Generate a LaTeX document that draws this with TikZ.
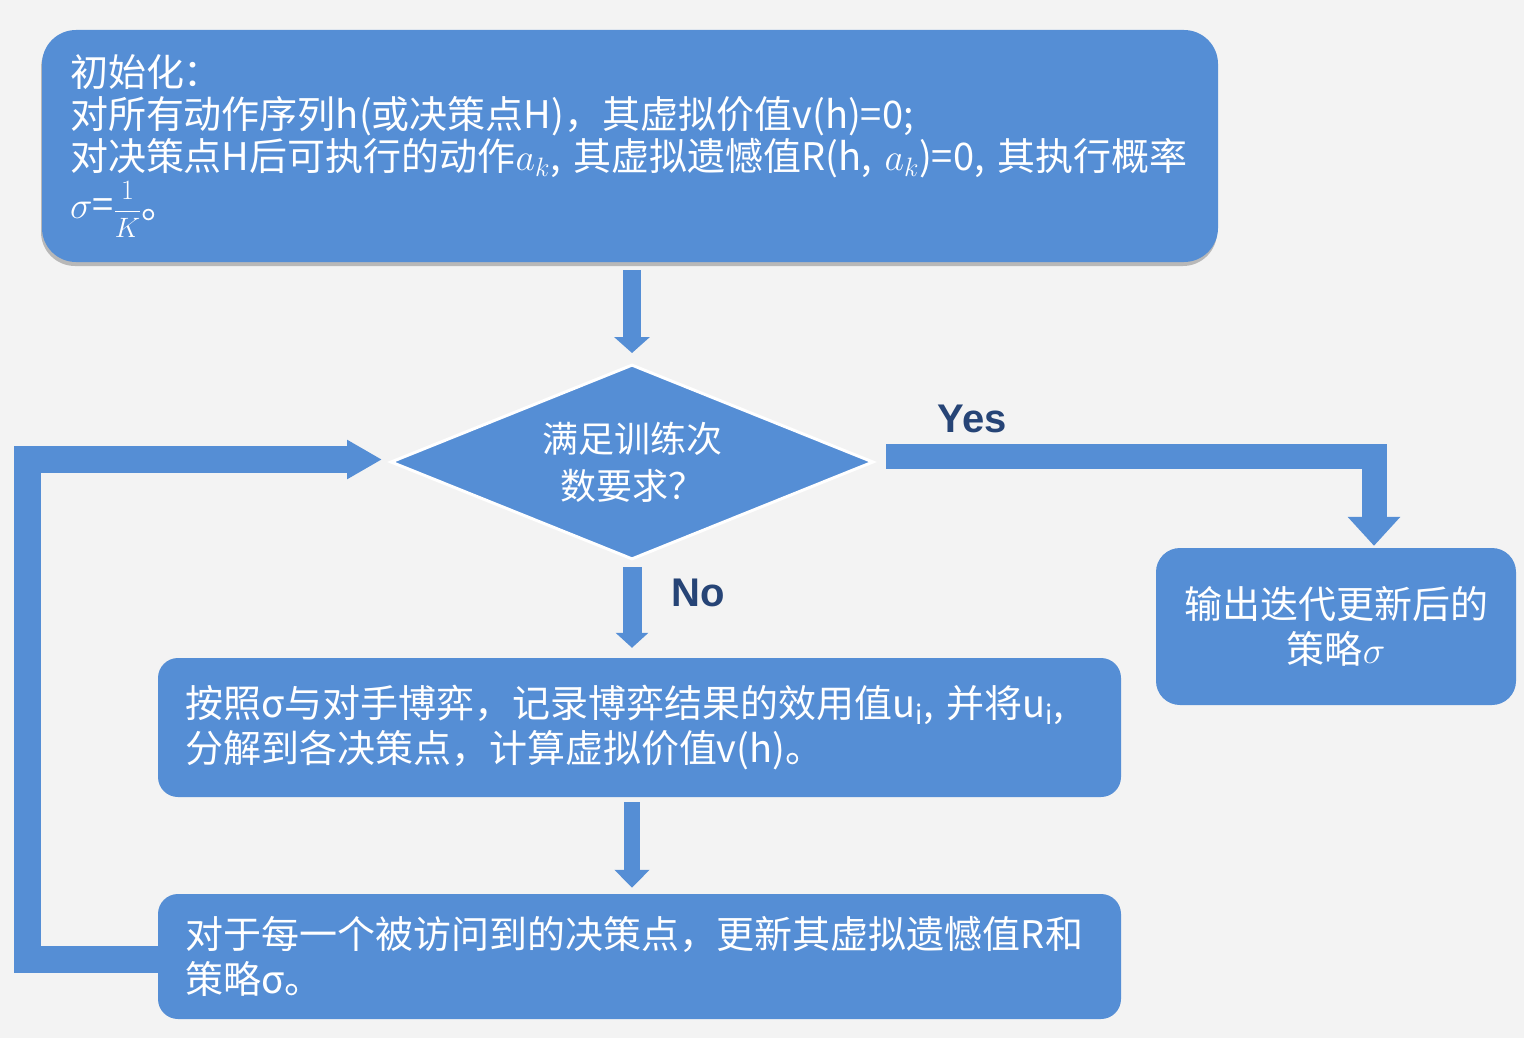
\RequirePackage{fix-cm}
\documentclass[tikz,border=0pt]{standalone}
\usepackage{fontspec}
\setmainfont{Noto Sans CJK SC}
\newfontfamily\latinbold{Liberation Sans}
\usetikzlibrary{shapes.geometric,arrows.meta,shadows}
\definecolor{boxblue}{RGB}{85,142,213}
\definecolor{bggray}{RGB}{243,243,243}
\definecolor{lblblue}{RGB}{38,68,118}
\tikzset{
  box/.style={draw=none, fill=boxblue, text=white, inner sep=0pt},
  boxtext/.style={font=\fontsize{38}{45}\selectfont},
  blk/.style={draw=boxblue, line cap=butt, line join=miter},
  lbl/.style={text=lblblue, font=\latinbold\bfseries\fontsize{40}{40}\selectfont, inner sep=0pt},
}
\begin{document}
\begin{tikzpicture}[x=1pt,y=-1pt]
\fill[bggray] (0,0) rectangle (1524,1038);
\useasboundingbox (0,0) rectangle (1524,1038);

% initialisation box
\node[box, font=\fontsize{38}{42}\selectfont, rounded corners=34pt, minimum width=1176pt, minimum height=232pt,
      text width=1120pt, align=left,
      drop shadow={shadow xshift=-1pt, shadow yshift=-4pt, opacity=0.35, fill=black!70}]
  (init) at (630,146)
  {\mbox{初始化：}\\
   \mbox{对所有动作序列h(或决策点H)，其虚拟价值v(h)=0;}\\
   \mbox{对决策点H后可执行的动作$a_k$, 其虚拟遗憾值R(h, $a_k$)=0, 其执行概率}\\[2pt]
   \mbox{$\sigma$={\fontsize{28}{28}\selectfont$\displaystyle\frac{1}{K}$}。}};

% decision
\node[diamond, aspect=2.477, minimum width=483pt, minimum height=195pt, inner sep=0pt,
      fill=boxblue, draw=white, line width=3pt, text=white, align=center,
      font=\fontsize{36}{47}\selectfont]
  (dia) at (632,462) {满足训练次\\数要求？};

% output box
\node[box, boxtext, rounded corners=24pt, minimum width=360pt, minimum height=157pt,
      align=center]
  (out) at (1336,626.5) {输出迭代更新后的\\策略$\sigma$};

% play box
\node[box, boxtext, rounded corners=20pt, minimum width=963pt, minimum height=139pt,
      text width=909pt, align=left]
  (play) at (639.5,727.5)
  {\mbox{按照σ与对手博弈，记录博弈结果的效用值u$_{\mathrm{i}}$, 并将u$_{\mathrm{i}}$,}\\
   \mbox{分解到各决策点，计算虚拟价值v(h)。}};

% update box
\node[box, boxtext, rounded corners=20pt, minimum width=963pt, minimum height=125pt,
      text width=909pt, align=left]
  (upd) at (639.5,956.5)
  {\mbox{对于每一个被访问到的决策点，更新其虚拟遗憾值R和}\\
   \mbox{策略σ。}};

% labels
\node[lbl] (yes) at (972,419) {Yes};
\node[lbl] (no) at (698,593) {No};

% connectors
\draw[blk, line width=18pt, -{Triangle[width=35pt,length=16pt]},
      shorten <=8pt, shorten >=10pt]
  (init.south -| dia.north) -- (dia.north);

\draw[blk, line width=19pt, -{Triangle[width=32pt,length=15pt]},
      shorten <=6pt, shorten >=10pt]
  (dia.south) -- (dia.south |- play.north);

\draw[blk, line width=16pt, -{Triangle[width=34pt,length=18pt]},
      shorten <=5pt, shorten >=6pt]
  (play.south -| dia.south) -- (upd.north -| dia.south);

\coordinate (yturn) at (1374,456.5);
\draw[blk, line width=25pt, -{Triangle[width=51pt,length=29pt]},
      shorten <=11pt, shorten >=2pt]
  (dia.east |- yturn) -- (yturn) -- (yturn |- out.north);

\coordinate (lb) at (27.5,959.5);
\coordinate (lt) at (27.5,459.5);
\draw[blk, line width=27pt, -{Triangle[width=37pt,length=35pt]},
      shorten >=7pt]
  (upd.west |- lb) -- (lb) -- (lt) -- (lt -| dia.west);
\end{tikzpicture}
\end{document}
